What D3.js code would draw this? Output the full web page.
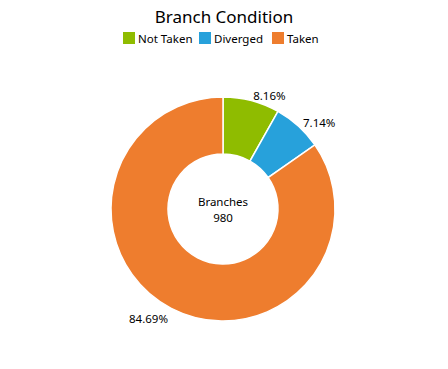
<!DOCTYPE html>
<html>
<head>
<meta charset="utf-8">
<script src="https://cdn.jsdelivr.net/npm/d3@7"></script>
<style>
  body { margin: 0; background: #fff; }
  svg { font-family: "Noto Sans", "Open Sans", sans-serif; }
</style>
</head>
<body>
<div id="chart"></div>
<script>
// branch condition counts
var categories = ["Not Taken", "Diverged", "Taken"];
var counts = [80, 70, 830];
var labels = ["8.16%", "7.14%", "84.69%"];
var colors = ["#8FBC00", "#27A1DB", "#EE7D2E"];

var width = 448, height = 369;
var cx = 223, cy = 209;
var outerR = 112, innerR = 55, labelR = 119;

var svg = d3.select("#chart").append("svg")
  .attr("width", width)
  .attr("height", height);

svg.append("text")
  .attr("x", 224).attr("y", 23)
  .attr("text-anchor", "middle")
  .style("font-size", "17px")
  .attr("fill", "#000")
  .text("Branch Condition");

// legend
var legendX = [123, 199, 272];
var legend = svg.selectAll(".legend")
  .data(categories)
  .enter().append("g")
  .attr("class", "legend")
  .attr("transform", function(d, i) { return "translate(" + legendX[i] + ",32)"; });

legend.append("rect")
  .attr("width", 12).attr("height", 12)
  .attr("fill", function(d, i) { return colors[i]; });

legend.append("text")
  .attr("x", 15).attr("y", 10.5)
  .style("font-size", "11.5px")
  .attr("fill", "#000")
  .text(function(d) { return d; });

var pie = d3.pie().sort(null).value(function(d) { return d; });
var arcs = pie(counts);
var arc = d3.arc().innerRadius(innerR).outerRadius(outerR);

var g = svg.append("g").attr("transform", "translate(" + cx + "," + cy + ")");

g.selectAll("path")
  .data(arcs)
  .enter().append("path")
  .attr("d", arc)
  .attr("fill", function(d, i) { return colors[i]; })
  .attr("stroke", "#fff")
  .attr("stroke-width", 1.5);

function mid(d) { return (d.startAngle + d.endAngle) / 2; }

g.selectAll(".lbl")
  .data(arcs)
  .enter().append("text")
  .attr("class", "lbl")
  .attr("x", function(d) { return labelR * Math.sin(mid(d)); })
  .attr("y", function(d) { return -labelR * Math.cos(mid(d)); })
  .attr("dy", function(d) { return mid(d) > Math.PI ? ".7em" : ".5em"; })
  .attr("text-anchor", function(d) { return mid(d) > Math.PI ? "end" : "start"; })
  .style("font-size", "11.5px")
  .attr("fill", "#000")
  .text(function(d, i) { return labels[i]; });

g.append("text")
  .attr("y", -3)
  .attr("text-anchor", "middle")
  .style("font-size", "11.5px")
  .text("Branches");

g.append("text")
  .attr("y", 13)
  .attr("text-anchor", "middle")
  .style("font-size", "11.5px")
  .text(d3.sum(counts));
</script>
</body>
</html>
